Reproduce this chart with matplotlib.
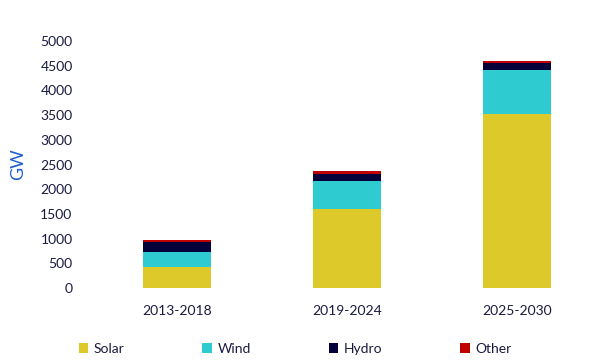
import matplotlib
matplotlib.use("Agg")
import matplotlib.pyplot as plt
import numpy as np

periods = ['2013-2018', '2019-2024', '2025-2030']
solar = [425, 1600, 3530]
wind = [305, 570, 885]
hydro = [200, 140, 140]
other = [45, 60, 45]

series = [('Solar', solar, '#dec92b'),
          ('Wind', wind, '#2ecbd0'),
          ('Hydro', hydro, '#03003a'),
          ('Other', other, '#c00000')]

text_col = '#1a1a40'
plt.rcParams['font.family'] = ['Lato', 'DejaVu Sans']

fig = plt.figure(figsize=(6.05, 3.62), dpi=100)
ax = fig.add_axes([92 / 605, 1 - 288 / 362, 510 / 605, 247 / 362])

x = np.arange(len(periods))
bottom = np.zeros(len(periods))
for name, vals, col in series:
    ax.bar(x, vals, width=0.4, bottom=bottom, color=col, label=name)
    bottom += np.array(vals)

ax.set_xlim(-0.5, 2.5)
ax.set_ylim(0, 5000)
ax.set_yticks(range(0, 5001, 500))
ax.set_xticks(x)
ax.set_xticklabels(periods)

# no frame, no tick marks
for s in ax.spines.values():
    s.set_visible(False)
ax.tick_params(length=0, labelsize=10, colors=text_col)
ax.tick_params(axis='y', pad=14)
ax.tick_params(axis='x', pad=12)

ax.set_ylabel('GW', fontsize=13, color='#1f5fd0', labelpad=10)

fig.legend(loc='center', bbox_to_anchor=(0.488, 1 - 349 / 362), ncol=4,
           frameon=False, fontsize=10, handlelength=0.7, handleheight=0.7,
           handletextpad=0.4, columnspacing=5.6, labelcolor=text_col)

fig.savefig('out.png', dpi=100)
